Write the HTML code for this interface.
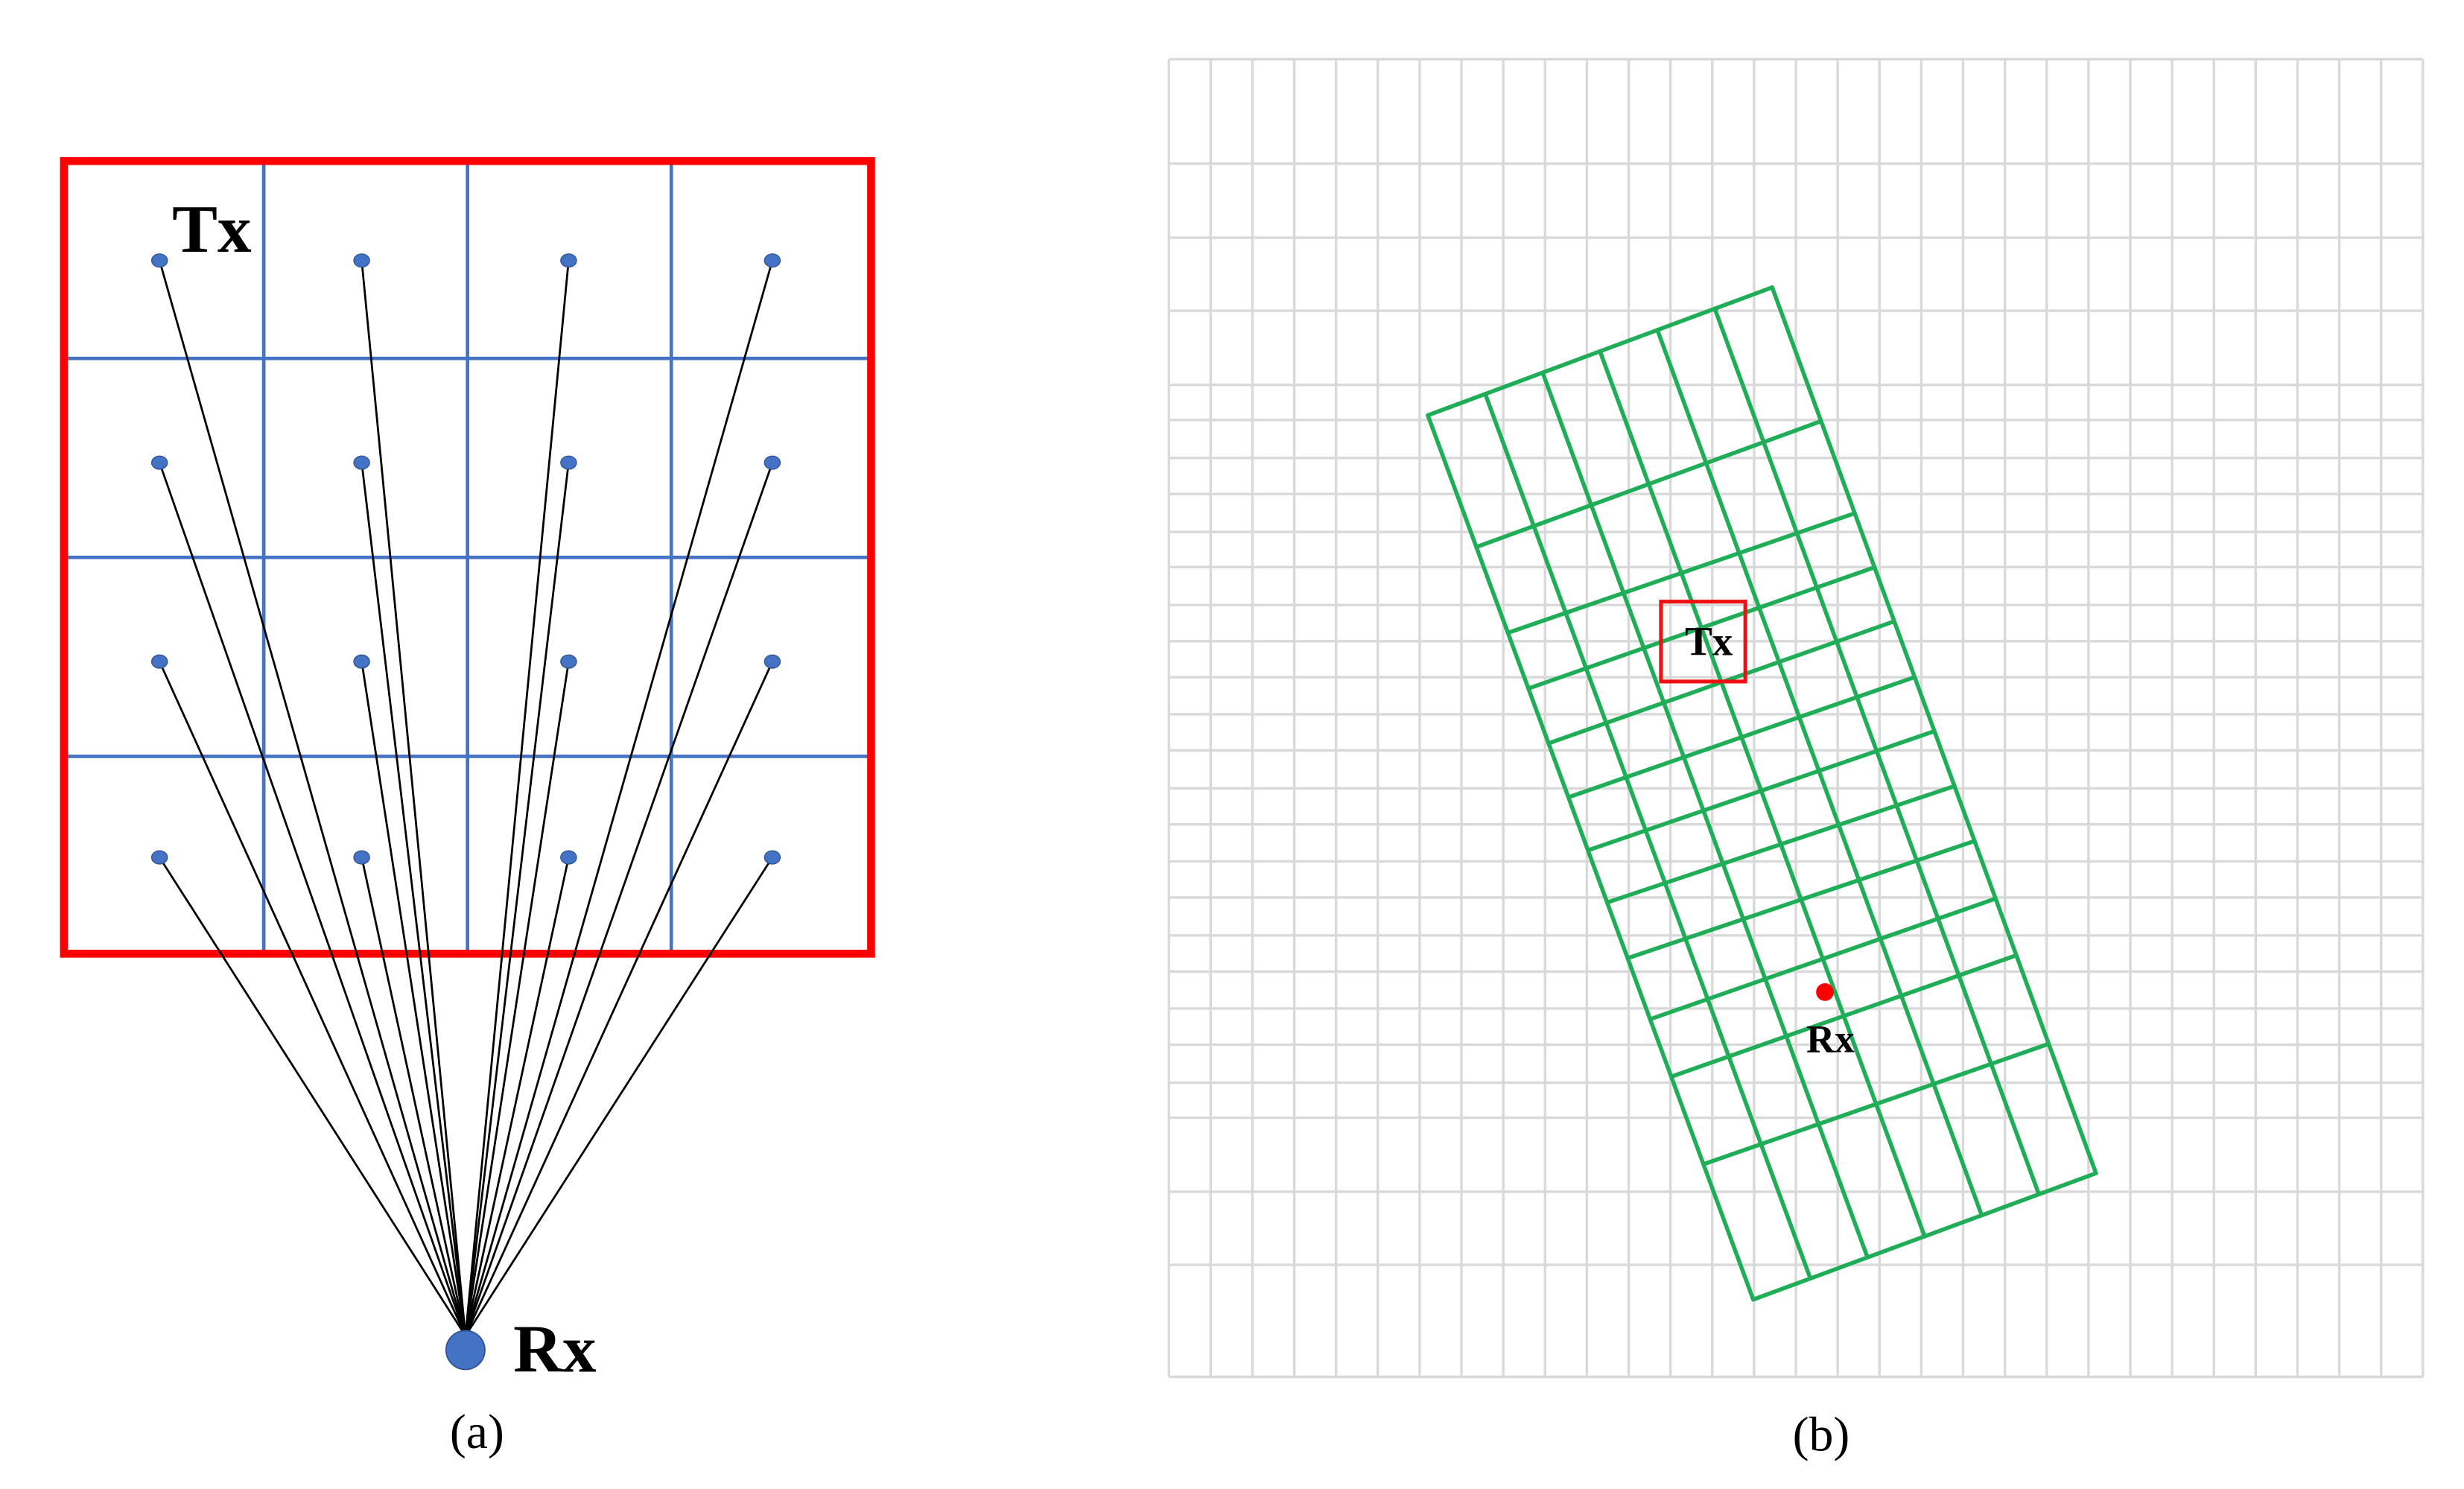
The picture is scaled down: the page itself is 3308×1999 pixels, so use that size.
<!DOCTYPE html>
<html><head><meta charset="utf-8"><style>
html,body{margin:0;padding:0;background:#fff;width:3308px;height:1999px;overflow:hidden}
svg{display:block}
</style></head><body>
<svg id="s" width="3308" height="1999" viewBox="0 0 1560 943" preserveAspectRatio="none" xmlns="http://www.w3.org/2000/svg">
<g id="grey" stroke="#d9d9d9" stroke-width="1.6" fill="none"></g>
<g id="green" stroke="#1fae57" stroke-width="2.6" fill="none" stroke-linecap="round"></g>
<rect x="1051.6" y="381" width="53.4" height="50.6" fill="none" stroke="#ee1111" stroke-width="2.4"/>
<text x="1066.7" y="415" font-family="Liberation Serif, serif" font-weight="bold" font-size="26" fill="#000">Tx</text>
<circle cx="1155.4" cy="628.3" r="5.6" fill="#ff0000"/>
<text x="1143.6" y="666.4" font-family="Liberation Serif, serif" font-weight="bold" font-size="25" fill="#000">Rx</text>
<text x="1153" y="918.6" text-anchor="middle" font-family="Liberation Serif, serif" font-size="31" fill="#000">(b)</text>

<g stroke="#4472c4" stroke-width="2.2">
<line x1="167" y1="101" x2="167" y2="604"/>
<line x1="296" y1="101" x2="296" y2="604"/>
<line x1="425" y1="101" x2="425" y2="604"/>
<line x1="39" y1="227" x2="552" y2="227"/>
<line x1="39" y1="353" x2="552" y2="353"/>
<line x1="39" y1="479" x2="552" y2="479"/>
</g>
<rect x="40.5" y="102" width="511" height="502" fill="none" stroke="#ff0000" stroke-width="5"/>
<g id="rays" stroke="#000" stroke-width="1.3"></g>
<g id="dots" fill="#4472c4" stroke="#2f528f" stroke-width="0.6"></g>
<circle cx="294.7" cy="855" r="12.3" fill="#4472c4" stroke="#2f528f" stroke-width="0.8"/>
<text x="109" y="159.4" font-family="Liberation Serif, serif" font-weight="bold" font-size="43" fill="#000">Tx</text>
<text x="325" y="868.7" font-family="Liberation Serif, serif" font-weight="bold" font-size="43" fill="#000">Rx</text>
<text x="302" y="917" text-anchor="middle" font-family="Liberation Serif, serif" font-size="31" fill="#000">(a)</text>
</svg>
<script>
(function(){
var NS="http://www.w3.org/2000/svg";
function L(g,x1,y1,x2,y2){var l=document.createElementNS(NS,"line");l.setAttribute("x1",x1);l.setAttribute("y1",y1);l.setAttribute("x2",x2);l.setAttribute("y2",y2);g.appendChild(l);}
var grey=document.getElementById("grey");
var gtop=37.5,gbot=872,gleft=740,gright=1534;
for(var i=0;i<=30;i++){var x=gleft+(gright-gleft)*i/30;L(grey,x,gtop,x,gbot);}
var zy=[62,172,250,327,405,442,482,520,560,597,637,675,713,752,790,830,868,907,945,985,1023,1062,1100,1140,1177,1255,1332,1450];
zy.forEach(function(z){var y=gtop+(z-62)*(gbot-gtop)/1388;L(grey,gleft,y,gright,y);});
var green=document.getElementById("green");
var TL=[904,263],TR=[1122,182],BR=[1327,743],BL=[1110,823];
function lerp(a,b,t){return [a[0]+(b[0]-a[0])*t,a[1]+(b[1]-a[1])*t];}
for(var i=0;i<=6;i++){var t=i/6;var p=lerp(TL,TR,t),q=lerp(BL,BR,t);L(green,p[0],p[1],q[0],q[1]);}
var fl=[0,0.149,0.246,0.309,0.371,0.432,0.492,0.551,0.614,0.683,0.748,0.847,1];
var fr=[0,0.151,0.255,0.316,0.377,0.440,0.501,0.563,0.625,0.690,0.754,0.854,1];
for(var i=0;i<fl.length;i++){var p=lerp(TL,BL,fl[i]),q=lerp(TR,BR,fr[i]);L(green,p[0],p[1],q[0],q[1]);}
var rays=document.getElementById("rays"),dots=document.getElementById("dots");
var cx=[101,229,360,489],cy=[165,293,419,543];
cy.forEach(function(y){cx.forEach(function(x){L(rays,x,y,294.7,846);var e=document.createElementNS(NS,"ellipse");e.setAttribute("cx",x);e.setAttribute("cy",y);e.setAttribute("rx",5);e.setAttribute("ry",4.2);dots.appendChild(e);});});
})();
</script>
</body></html>
